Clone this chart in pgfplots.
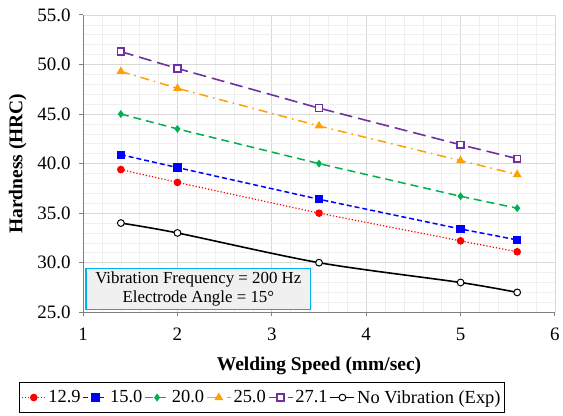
\documentclass[border=0pt]{standalone}
\usepackage{fontspec}
\setmainfont{Liberation Serif}
\usepackage{pgfplots}
\pgfplotsset{compat=1.18}
\definecolor{cred}{HTML}{FF0000}
\definecolor{cblue}{HTML}{0000FF}
\definecolor{cgreen}{HTML}{00B050}
\definecolor{corange}{HTML}{FFA000}
\definecolor{cpurple}{HTML}{7030A0}
\definecolor{boxcyan}{HTML}{00B0F0}
\definecolor{boxfill}{HTML}{F0F0F0}
\definecolor{gmaj}{HTML}{D9D9D9}
\definecolor{gmin}{HTML}{EFEFEF}
\definecolor{axgray}{HTML}{808080}
\begin{document}
\begin{tikzpicture}
\begin{axis}[
  name=ax,
  scale only axis,
  width=473pt, height=298pt,
  xmin=1, xmax=6, ymin=25, ymax=55,
  xtick={1,2,3,4,5,6},
  ytick={25,30,35,40,45,50,55},
  minor x tick num=4, minor y tick num=4,
  grid=both,
  major grid style={gmaj, line width=0.7pt},
  minor grid style={gmin, line width=0.6pt},
  axis x line*=bottom, axis y line*=left,
  axis line style={axgray, line width=1pt, -},
  tick align=outside,
  major tick length=4pt, minor tick length=0pt,
  tick style={axgray, line width=1pt},
  /pgf/number format/assume math mode=true,
  yticklabel style={/pgf/number format/.cd, fixed, fixed zerofill, precision=1, /tikz/.cd, xshift=-5pt},
  xticklabel style={/pgf/number format/.cd, fixed, precision=0, /tikz/.cd, yshift=-8pt},
  ticklabel style={font=\fontsize{19}{21}\selectfont},
  xlabel={\textbf{Welding Speed (mm/sec)}},
  ylabel={\textbf{Hardness (HRC)}},
  label style={font=\fontsize{19.5}{21}\selectfont},
  xlabel style={yshift=-10pt},
  ylabel style={yshift=4pt},
  legend columns=6,
  legend style={at={(rel axis cs:0.379,-0.235)}, anchor=north,
    draw=black, line width=0.6pt, font=\fontsize{18.5}{20}\selectfont,
    inner xsep=1.5pt, inner ysep=6pt, column sep=0pt},
  legend image code/.code={
    \draw[mark repeat=2,mark phase=2] plot coordinates {(0pt,0pt) (12pt,0pt) (24pt,0pt)};},
]
\addplot[cred, dotted, line width=1.2pt, mark=*, mark size=3.2pt, mark options={solid}]
  coordinates {(1.4,39.4) (2,38.1) (3.5,35.0) (5,32.2) (5.6,31.1)};
\addlegendentry{12.9}
\addplot[cblue, dash pattern=on 5pt off 3pt, line width=1.5pt, mark=square*, mark size=3.4pt, mark options={solid}]
  coordinates {(1.4,40.9) (2,39.6) (3.5,36.4) (5,33.4) (5.6,32.3)};
\addlegendentry{15.0}
\addplot[cgreen, dash pattern=on 8pt off 5pt, line width=1.5pt, mark=diamond*, mark size=2.8pt, mark options={solid}]
  coordinates {(1.4,45.0) (2,43.5) (3.5,40.0) (5,36.7) (5.6,35.5)};
\addlegendentry{20.0}
\addplot[corange, dash pattern=on 9pt off 5pt on 1.5pt off 5pt, line width=1.5pt, mark=triangle*, mark size=3.6pt, mark options={solid}]
  coordinates {(1.4,49.3) (2,47.6) (3.5,43.8) (5,40.3) (5.6,38.9)};
\addlegendentry{25.0}
\addplot[cpurple, dash pattern=on 13pt off 6pt, line width=1.6pt, mark=square*, mark size=3.4pt, mark options={solid, fill=white, line width=1.5pt}]
  coordinates {(1.4,51.3) (2,49.6) (3.5,45.6) (5,41.9) (5.6,40.5)};
\addlegendentry{27.1}
\addplot[black, line width=1.6pt, smooth, mark=*, mark size=3.4pt, mark options={solid, fill=white, line width=1pt}]
  coordinates {(1.4,34.0) (2,33.0) (3.5,30.0) (5,28.0) (5.6,27.0)};
\addlegendentry{No Vibration (Exp)}
\node[anchor=south west, draw=boxcyan, line width=1.3pt, fill=boxfill,
  minimum width=225pt, minimum height=41pt, align=center, inner sep=2pt,
  font=\fontsize{16.9}{19.5}\selectfont]
  at (rel axis cs:0.005,0.008) {Vibration Frequency = 200 Hz\\Electrode Angle = 15°};
\end{axis}
\path ([xshift=-83.3pt,yshift=-104pt]ax.south west) rectangle ++(563pt,417pt);
\end{tikzpicture}
\end{document}
